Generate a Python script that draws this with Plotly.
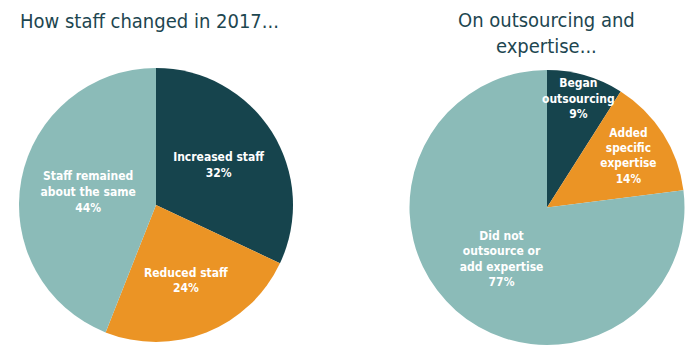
import math
import plotly.graph_objects as go

left_labels = ["Increased staff", "Reduced staff", "Staff remained<br>about the same"]
left_values = [32, 24, 44]
right_labels = ["Began<br>outsourcing", "Added<br>specific<br>expertise", "Did not<br>outsource or<br>add expertise"]
right_values = [9, 14, 77]
colors = ["#16444D", "#EB9425", "#8BBBB8"]

label_font = dict(family="DejaVu Sans Condensed, sans-serif", size=12, color="white")
title_font = dict(family="DejaVu Sans Condensed, sans-serif", size=20, color="#1D4650")

left_dom = dict(x=[19/700, 293/700], y=[1-342/360, 1-68/360])
right_dom = dict(x=[409/700, 685/700], y=[1-345/360, 1-70/360])

fig = go.Figure()
fig.add_trace(go.Pie(
    labels=left_labels, values=left_values, sort=False, direction="clockwise", rotation=0,
    marker=dict(colors=colors, line=dict(width=0)),
    texttemplate="<b>%{label}<br>%{value}%</b>", textposition="inside",
    insidetextorientation="horizontal", textfont=label_font,
    domain=left_dom, showlegend=False, hoverinfo="label+value",
))
# first (small) slice of the right pie gets its label as an annotation so it is not shrunk
right_text = ["" if i == 0 else "<b>%s<br>%d%%</b>" % (l, v) for i, (l, v) in enumerate(zip(right_labels, right_values))]
fig.add_trace(go.Pie(
    labels=right_labels, values=right_values, sort=False, direction="clockwise", rotation=0,
    marker=dict(colors=colors, line=dict(width=0)),
    text=right_text, texttemplate="%{text}", textposition="inside",
    insidetextorientation="horizontal", textfont=label_font,
    domain=right_dom, showlegend=False, hoverinfo="label+value",
))

# position of the small slice label from its data angle
tot = sum(right_values)
mid = right_values[0] / tot * 360 / 2
cx = (right_dom["x"][0] + right_dom["x"][1]) / 2
cy = (right_dom["y"][0] + right_dom["y"][1]) / 2
rpx = (right_dom["x"][1] - right_dom["x"][0]) * 700 / 2
frac = 0.82
ax = cx + frac * rpx * math.sin(math.radians(mid)) / 700
ay = cy + frac * rpx * math.cos(math.radians(mid)) / 360
fig.add_annotation(text="<b>%s<br>%d%%</b>" % (right_labels[0], right_values[0]), x=ax, y=ay,
                   xref="paper", yref="paper", showarrow=False, font=label_font,
                   xanchor="center", yanchor="middle")

fig.add_annotation(text="How staff changed in 2017...", x=149/700, y=1-21/360, xref="paper", yref="paper",
                   showarrow=False, font=title_font, xanchor="center", yanchor="middle")
fig.add_annotation(text="On outsourcing and<br>expertise...", x=546/700, y=1-33/360, xref="paper", yref="paper",
                   showarrow=False, font=title_font, xanchor="center", yanchor="middle")
fig.update_layout(width=700, height=360, margin=dict(l=0, r=0, t=0, b=0),
                  paper_bgcolor="white", plot_bgcolor="white")
fig.write_html("out.html", post_script="document.body.style.margin='0';",
               config=dict(displayModeBar=False))
